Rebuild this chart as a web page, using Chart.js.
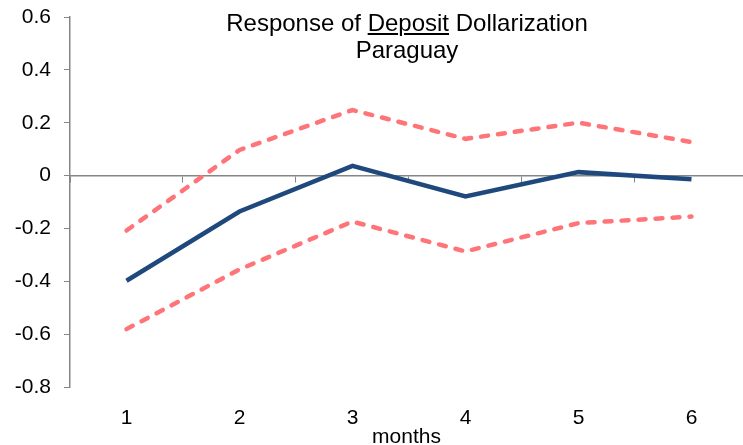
<!DOCTYPE html>
<html>
<head>
<meta charset="utf-8">
<script src="https://cdn.jsdelivr.net/npm/chart.js@4/dist/chart.umd.min.js"></script>
<style>
  html, body { margin: 0; padding: 0; background: #fff; }
  #wrap { position: relative; width: 743px; height: 445px; overflow: hidden; }
  #title {
    position: absolute; left: 207px; width: 400px; top: 9px;
    text-align: center; font-family: "Liberation Sans", Arial, sans-serif;
    font-size: 24px; line-height: 27px; color: #000; pointer-events: none;
  }
</style>
</head>
<body>
<div id="wrap">
  <canvas id="c"></canvas>
  <div id="title">Response of <u>Deposit</u> Dollarization<br>Paraguay</div>
</div>
<script>
const months = [1, 2, 3, 4, 5, 6];
const response = [-0.398, -0.136, 0.037, -0.079, 0.013, -0.014];
const upperBand = [-0.208, 0.097, 0.248, 0.139, 0.200, 0.127];
const lowerBand = [-0.581, -0.355, -0.174, -0.287, -0.180, -0.155];
const yTicks = [-0.8, -0.6, -0.4, -0.2, 0, 0.2, 0.4, 0.6];
const xTickLabels = ['1', '2', '3', '4', '5', '6'];
const xAxisTitle = 'months';

const toPoints = arr => arr.map((v, i) => ({ x: months[i], y: v }));
const grey = '#868686';
const xMin = 0.5, xMax = 6.456;

Chart.defaults.font.family = '"Liberation Sans", Arial, sans-serif';
Chart.defaults.font.size = 21;
Chart.defaults.color = '#000';

new Chart(document.getElementById('c'), {
  type: 'line',
  data: {
    datasets: [
      { label: 'Upper', data: toPoints(upperBand), borderColor: '#FF7478', borderWidth: 4.5,
        borderDash: [7, 10], borderCapStyle: 'round', pointRadius: 0, tension: 0, xAxisID: 'x' },
      { label: 'Lower', data: toPoints(lowerBand), borderColor: '#FF7478', borderWidth: 4.5,
        borderDash: [7, 10], borderCapStyle: 'round', pointRadius: 0, tension: 0, xAxisID: 'x' },
      { label: 'Response', data: toPoints(response), borderColor: '#1F497D', borderWidth: 4.5,
        pointRadius: 0, tension: 0, borderJoinStyle: 'miter', xAxisID: 'x' }
    ]
  },
  options: {
    responsive: true,
    maintainAspectRatio: false,
    animation: false,
    layout: { padding: { left: 0, right: 0, top: 17, bottom: 0 } },
    plugins: { legend: { display: false }, tooltip: { enabled: false }, title: { display: false } },
    scales: {
      x: {
        type: 'linear', position: 'bottom', min: xMin, max: xMax,
        afterBuildTicks: ax => { ax.ticks = months.map(v => ({ value: v })); },
        ticks: { padding: 19, autoSkip: false, maxRotation: 0,
                 callback: (v) => xTickLabels[months.indexOf(v)] },
        grid: { display: false, drawTicks: false },
        border: { display: false },
        title: { display: true, text: xAxisTitle, font: { size: 21, lineHeight: 1 }, padding: { top: 0, bottom: -3 } },
        afterFit: s => { s.height = 58; s.paddingLeft = 0; s.paddingRight = 0; }
      },
      x2: {
        type: 'linear', position: { y: 0 }, min: xMin, max: xMax,
        afterBuildTicks: ax => { ax.ticks = months.map(v => ({ value: v - 0.5 })); },
        ticks: { display: false },
        grid: { drawOnChartArea: false, tickLength: 6, color: grey, lineWidth: 1 },
        border: { display: true, color: grey, width: 1.5 },
        afterFit: s => { s.paddingLeft = 0; s.paddingRight = 0; s.paddingTop = 0; s.paddingBottom = 0; }
      },
      y: {
        type: 'linear', position: 'left', min: -0.8, max: 0.6,
        afterBuildTicks: ax => { ax.ticks = yTicks.map(v => ({ value: v })); },
        ticks: { padding: 13, callback: v => String(parseFloat(v.toFixed(1))) },
        grid: { drawOnChartArea: false, tickLength: 6, color: grey, lineWidth: 1 },
        border: { display: true, color: grey, width: 1.5 },
        afterFit: s => { s.width = 70; s.paddingTop = 0; s.paddingBottom = 0; }
      }
    }
  }
});
</script>
</body>
</html>
